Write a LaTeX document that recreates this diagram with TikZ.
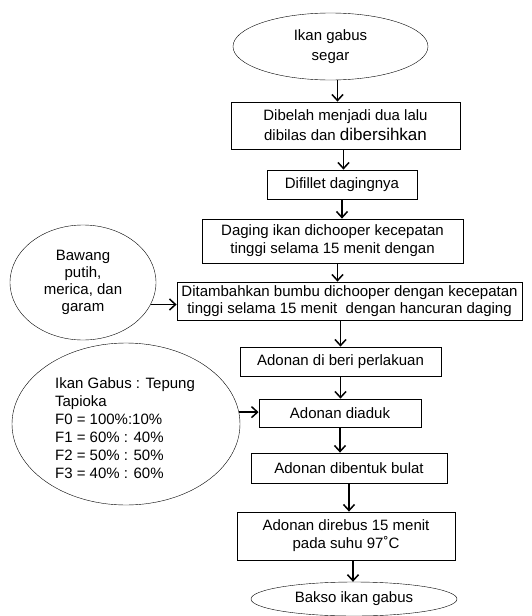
\documentclass[tikz,border=0pt]{standalone}
\usepackage{fontspec}
\setmainfont{Liberation Sans}
\usetikzlibrary{shapes.geometric,arrows.meta}
\begin{document}
\begin{tikzpicture}[x=1pt,y=-1pt,
  font=\fontsize{15}{18}\selectfont,
  langkah/.style={draw,thick,align=center,inner sep=0pt},
  oval/.style={draw,ellipse,align=center,inner sep=0pt},
  panah/.style={-{Straight Barb[length=6pt,width=11pt]},line width=1.5pt}]
\useasboundingbox (0,0) rectangle (531,616);
% alur utama
\node[oval,minimum width=195,minimum height=67,font=\fontsize{15}{20}\selectfont] (segar) at (330.5,46.5) {Ikan gabus\\segar};
\node[langkah,minimum width=229,minimum height=47,font=\fontsize{15}{20}\selectfont] (belah) at (345.5,125.5) {Dibelah menjadi dua lalu\\dibilas dan {\fontsize{17}{20}\selectfont dibersihkan}};
\node[langkah,minimum width=150,minimum height=29] (fillet) at (342,184.5) {Difillet dagingnya};
\node[langkah,minimum width=261,minimum height=44] (chopper) at (332.5,241) {Daging ikan dichooper kecepatan\\tinggi selama 15 menit dengan};
\node[langkah,minimum width=345,minimum height=38,font=\fontsize{15}{17}\selectfont] (bumbu) at (349.5,301) {Ditambahkan bumbu dichooper dengan kecepatan\\tinggi selama 15 menit\ \ dengan hancuran daging};
\node[langkah,minimum width=201,minimum height=29] (perlakuan) at (340.5,361.5) {Adonan di beri perlakuan};
\node[langkah,minimum width=162,minimum height=28] (aduk) at (340,413) {Adonan diaduk};
\node[langkah,minimum width=196,minimum height=30] (bulat) at (349,468) {Adonan dibentuk bulat};
\node[langkah,minimum width=218,minimum height=48] (rebus) at (346,536) {Adonan direbus 15 menit\\pada suhu 97˚C};
\node[oval,minimum width=206,minimum height=34] (bakso) at (354,599) {Bakso ikan gabus};
% bahan tambahan
\node[oval,minimum width=146,minimum height=115,font=\fontsize{15}{17}\selectfont] (bawang) at (83,282.5) {Bawang\\putih,\\merica, dan\\garam};
\node[oval,minimum width=228,minimum height=162] (formula) at (126,424) {};
\node[align=left,inner sep=0pt] (rasio) at (125,428) {Ikan Gabus : Tepung\\Tapioka\\F0 = 100\%:10\%\\F1 = 60\% : 40\%\\F2 = 50\% : 50\%\\F3 = 40\% : 60\%};

\draw[panah] ([xshift=7pt]segar.south) -- ([xshift=7pt]segar.south |- belah.north);
\draw[panah] ([xshift=-2pt]belah.south) -- ([xshift=-2pt]belah.south |- fillet.north);
\draw[panah] (fillet.south) -- (fillet.south |- chopper.north);
\draw[panah] ([xshift=5pt]chopper.south) -- ([xshift=5pt]chopper.south |- bumbu.north);
\draw[panah] (perlakuan.north |- bumbu.south) -- (perlakuan.north);
\draw[panah] (perlakuan.south) -- (perlakuan.south |- aduk.north);
\draw[panah] (aduk.south) -- (aduk.south |- bulat.north);
\draw[panah] (bulat.south) -- (bulat.south |- rebus.north);
\draw[panah] ([xshift=7pt]rebus.south) -- ([xshift=7pt]rebus.south |- bakso.north);
\draw[panah] (bawang.-18) -- (bawang.-18 -| bumbu.west);
\draw[panah] (formula.6) -- (formula.6 -| aduk.west);
\end{tikzpicture}
\end{document}
